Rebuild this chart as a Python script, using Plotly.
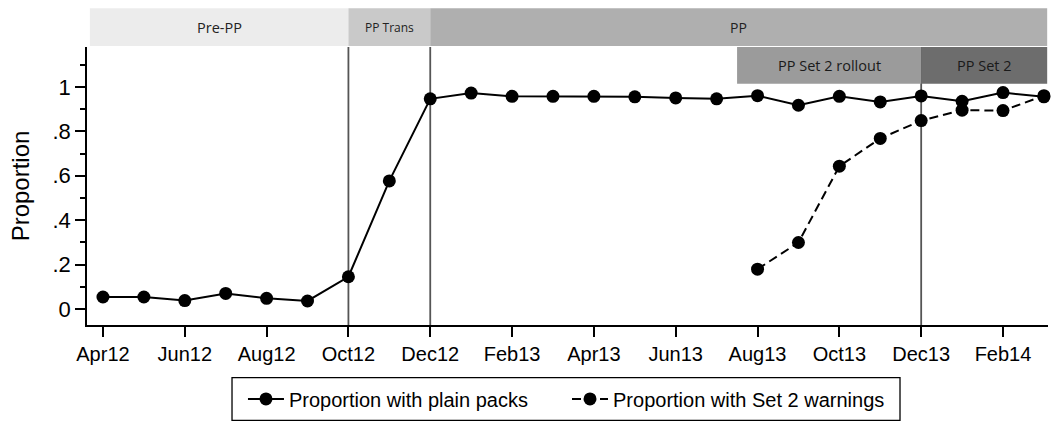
import plotly.graph_objects as go

months = ["Apr12", "May12", "Jun12", "Jul12", "Aug12", "Sep12", "Oct12", "Nov12",
          "Dec12", "Jan13", "Feb13", "Mar13", "Apr13", "May13", "Jun13", "Jul13",
          "Aug13", "Sep13", "Oct13", "Nov13", "Dec13", "Jan14", "Feb14", "Mar14"]
plain_packs = [0.055, 0.055, 0.039, 0.071, 0.049, 0.037, 0.146, 0.577,
               0.946, 0.972, 0.957, 0.957, 0.957, 0.955, 0.950, 0.946,
               0.960, 0.917, 0.957, 0.932, 0.959, 0.935, 0.974, 0.955]
set2_warnings = [None] * 16 + [0.180, 0.300, 0.643, 0.768, 0.848, 0.895, 0.893, 0.960]

y_tickvals = [0, 0.2, 0.4, 0.6, 0.8, 1]
y_ticktext = ["0", ".2", ".4", ".6", ".8", "1"]

# phases: (label, start month index, end month index)
phases_row1 = [("Pre-PP", -0.32, 6), ("PP Trans", 6, 8), ("PP", 8, 23.08)]
phases_row2 = [("PP Set 2 rollout", 15.5, 20), ("PP Set 2", 20, 23.08)]
phase_lines = [6, 8, 20]

x = list(range(len(months)))

fig = go.Figure()
fig.add_trace(go.Scatter(
    x=x, y=plain_packs, mode="lines+markers", name="Proportion with plain packs",
    line=dict(color="black", width=2), marker=dict(color="black", size=13),
    cliponaxis=False, legend="legend"))
fig.add_trace(go.Scatter(
    x=x, y=set2_warnings, mode="lines+markers", name="Proportion with Set 2 warnings",
    line=dict(color="black", width=2, dash="9px,5px"), marker=dict(color="black", size=13),
    cliponaxis=False, legend="legend2"))

shapes = []
annotations = []
for xv in phase_lines:
    shapes.append(dict(type="line", xref="x", yref="paper", x0=xv, x1=xv, y0=0, y1=1,
                       line=dict(color="#555555", width=1.8), layer="below"))

row1_colors = ["#ececec", "#c9c9c9", "#afafaf"]
row1_fonts = [14.5, 12, 14]
for (lab, a, b), c, fs in zip(phases_row1, row1_colors, row1_fonts):
    shapes.append(dict(type="rect", xref="x", yref="paper", x0=a, x1=b, y0=1.0036, y1=1.139,
                       fillcolor=c, line=dict(width=0), layer="above"))
    annotations.append(dict(x=(a + b) / 2, y=(1.0036 + 1.139) / 2, xref="x", yref="paper",
                            xanchor="center", yanchor="middle",
                            text=lab, showarrow=False,
                            font=dict(family="Open Sans", size=fs, color="#222")))

row2_colors = ["#9b9b9b", "#6d6d6d"]
for (lab, a, b), c in zip(phases_row2, row2_colors):
    shapes.append(dict(type="rect", xref="x", yref="paper", x0=a, x1=b, y0=0.868, y1=1.0,
                       fillcolor=c, line=dict(width=0), layer="above"))
    annotations.append(dict(x=(a + b) / 2, y=(0.868 + 1.0) / 2, xref="x", yref="paper",
                            xanchor="center", yanchor="middle",
                            text=lab, showarrow=False,
                            font=dict(family="Open Sans", size=14.5, color="#1a1a1a")))

# legend frame
shapes.append(dict(type="rect", xref="paper", yref="paper", x0=0.1509, x1=0.846,
                   y0=-0.343, y1=-0.189, line=dict(color="black", width=1.3),
                   fillcolor="rgba(0,0,0,0)", layer="above"))

legend_common = dict(orientation="h", yanchor="middle", y=-0.266, xanchor="left",
                     borderwidth=0, bgcolor="rgba(0,0,0,0)", itemwidth=36,
                     font=dict(size=20, family="Liberation Sans", color="black"))

fig.update_layout(
    width=1054, height=425,
    margin=dict(l=87, r=6, t=47, b=98),
    plot_bgcolor="white", paper_bgcolor="white",
    font=dict(family="Liberation Sans", color="black"),
    shapes=shapes, annotations=annotations,
    showlegend=True,
    legend=dict(x=0.1623, **legend_common),
    legend2=dict(x=0.4995, **legend_common),
    xaxis=dict(range=[-0.39, 23.1], tickvals=x[::2], ticktext=months[::2],
               showgrid=False, zeroline=False, showline=True, linecolor="black", linewidth=1.6,
               ticks="outside", ticklen=10, tickwidth=1.6, tickcolor="black",
               tickfont=dict(size=20), automargin=False),
    yaxis=dict(range=[-0.071, 1.179], tickvals=y_tickvals, ticktext=y_ticktext,
               showgrid=False, zeroline=False, showline=True, linecolor="black", linewidth=1.6,
               ticks="outside", ticklen=10, tickwidth=1.6, tickcolor="black",
               tickfont=dict(size=22), automargin=False,
               minor=dict(dtick=0.1, tick0=0, ticks="outside", ticklen=5, tickwidth=1.6,
                          tickcolor="black", showgrid=False),
               title=dict(text="Proportion", font=dict(size=24), standoff=16)),
)

fig.write_html("out.html", config={"displayModeBar": False},
               post_script="document.body.style.margin='0';")
